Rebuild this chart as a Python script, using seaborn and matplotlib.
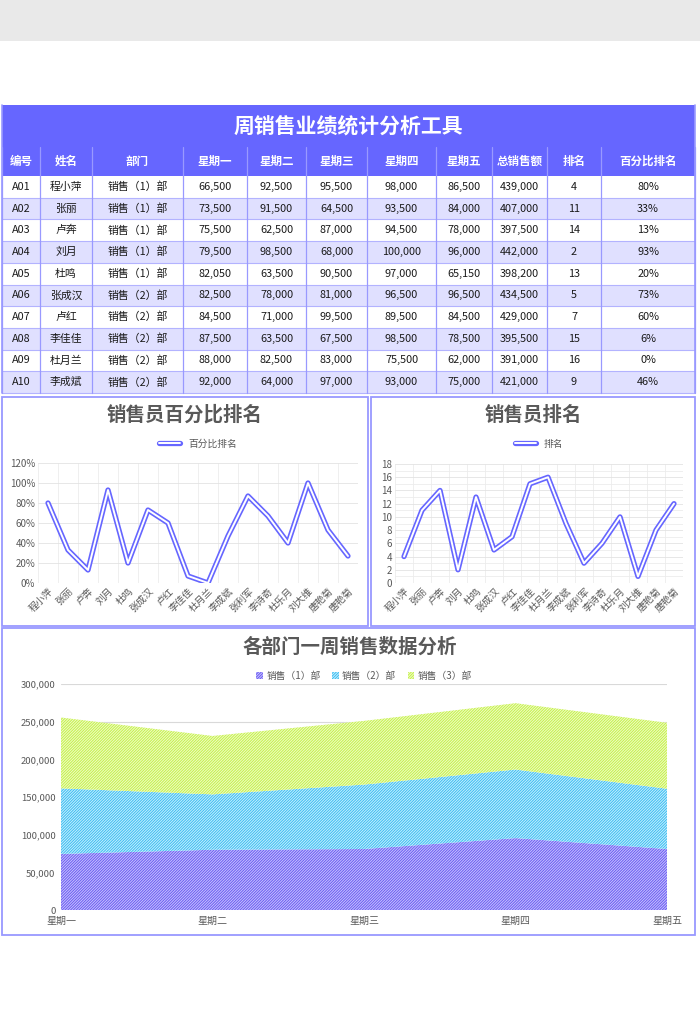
import numpy as np
import matplotlib.pyplot as plt
import seaborn as sns
import matplotlib.patheffects as pe
from matplotlib.patches import Rectangle

sns.set_theme(style="white")
plt.rcParams['font.family'] = ['Noto Sans CJK SC', 'DejaVu Sans']
plt.rcParams['hatch.linewidth'] = 0.7

# ---- table data ----
headers = ["编号", "姓名", "部门", "星期一", "星期二", "星期三", "星期四", "星期五", "总销售额", "排名", "百分比排名"]
ids = ["A01", "A02", "A03", "A04", "A05", "A06", "A07", "A08", "A09", "A10"]
names = ["程小萍", "张丽", "卢奔", "刘月", "杜鸣", "张成汉", "卢红", "李佳佳", "杜月兰", "李成斌"]
depts = ["销售（1）部"] * 5 + ["销售（2）部"] * 5
mon = [66500, 73500, 75500, 79500, 82050, 82500, 84500, 87500, 88000, 92000]
tue = [92500, 91500, 62500, 98500, 63500, 78000, 71000, 63500, 82500, 64000]
wed = [95500, 64500, 87000, 68000, 90500, 81000, 99500, 67500, 83000, 97000]
thu = [98000, 93500, 94500, 100000, 97000, 96500, 89500, 98500, 75500, 93000]
fri = [86500, 84000, 78000, 96000, 65150, 96500, 84500, 78500, 62000, 75000]
totals = [439000, 407000, 397500, 442000, 398200, 434500, 429000, 395500, 391000, 421000]
ranks_tbl = [4, 11, 14, 2, 13, 5, 7, 15, 16, 9]
pct_tbl = ["80%", "33%", "13%", "93%", "20%", "73%", "60%", "6%", "0%", "46%"]

# ---- line chart data (16 sales people) ----
people = ["程小萍", "张丽", "卢奔", "刘月", "杜鸣", "张成汉", "卢红", "李佳佳",
          "杜月兰", "李成斌", "张利军", "李诗奇", "杜乐月", "刘大维", "唐艳菊", "唐艳菊"]
pct_rank = [0.80, 0.33, 0.13, 0.93, 0.20, 0.73, 0.60, 0.07,
            0.00, 0.47, 0.87, 0.67, 0.40, 1.00, 0.53, 0.27]
rank = [4, 11, 14, 2, 13, 5, 7, 15, 16, 9, 3, 6, 10, 1, 8, 12]

# ---- area chart data ----
days = ["星期一", "星期二", "星期三", "星期四", "星期五"]
dept_names = ["销售（1）部", "销售（2）部", "销售（3）部"]
dept1 = [74500, 80000, 81000, 95500, 81000]
dept2 = [87000, 73500, 85500, 91000, 80000]
dept3 = [94000, 77500, 84500, 88000, 87500]

W, H = 700, 1030
fig = plt.figure(figsize=(W / 100, H / 100), dpi=100)
fig.patch.set_facecolor("white")


def px(x0, y0, x1, y1):
    return [x0 / W, 1 - y1 / H, (x1 - x0) / W, (y1 - y0) / H]


bg = fig.add_axes([0, 0, 1, 1])
bg.set_xlim(0, W)
bg.set_ylim(H, 0)
bg.axis("off")

PURPLE = "#6666ff"
LINE_C = "#9999ff"
GREY_T = "#595959"

bg.add_patch(Rectangle((0, 0), W, 41, color="#e9e9e9", lw=0))

# ---- table ----
col_edges = [2, 40, 92, 183, 247, 306, 367, 436, 492, 547, 601, 695]
t_top, h_top, b_top, row_h = 105, 147, 176, 21.7
bg.add_patch(Rectangle((2, t_top), 693, b_top - t_top, color=PURPLE, lw=0))
bg.text(348, 126, "周销售业绩统计分析工具", color="white", fontsize=15,
        fontweight="bold", ha="center", va="center")
for i, h in enumerate(headers):
    cx = (col_edges[i] + col_edges[i + 1]) / 2
    bg.text(cx, (h_top + b_top) / 2, h, color="white", fontsize=8.3,
            fontweight="bold", ha="center", va="center")

rows = list(zip(ids, names, depts, mon, tue, wed, thu, fri, totals, ranks_tbl, pct_tbl))
for r, row in enumerate(rows):
    y0 = b_top + r * row_h
    bg.add_patch(Rectangle((2, y0), 693, row_h,
                           color="white" if r % 2 == 0 else "#e0e0ff", lw=0))
    for i, v in enumerate(row):
        s = f"{v:,}" if isinstance(v, int) and i != 9 else str(v)
        cx = (col_edges[i] + col_edges[i + 1]) / 2
        bg.text(cx, y0 + row_h / 2, s, color="#1a1a1a", fontsize=7.8,
                ha="center", va="center")
    bg.plot([2, 695], [y0 + row_h, y0 + row_h], color="#b3b3ff", lw=0.8)
t_bot = b_top + 10 * row_h
for x in col_edges:
    bg.plot([x, x], [h_top, t_bot], color=LINE_C, lw=0.9)
bg.plot([2, 2], [t_top, t_bot], color=LINE_C, lw=1.2)
bg.plot([695, 695], [t_top, t_bot], color=LINE_C, lw=1.2)

# ---- panel frames ----
for (x0, y0, x1, y1) in [(2, 397, 368, 626), (371, 397, 695, 626), (2, 628, 695, 935)]:
    bg.add_patch(Rectangle((x0, y0), x1 - x0, y1 - y0, fill=False,
                           edgecolor=LINE_C, lw=1.3))

bg.text(185, 415, "销售员百分比排名", color=GREY_T, fontsize=14, fontweight="bold",
        ha="center", va="center")
bg.text(533, 415, "销售员排名", color=GREY_T, fontsize=14, fontweight="bold",
        ha="center", va="center")
bg.text(350, 647, "各部门一周销售数据分析", color=GREY_T, fontsize=14, fontweight="bold",
        ha="center", va="center")

line_fx = [pe.Stroke(linewidth=3.8, foreground=PURPLE), pe.Normal()]
idx = np.arange(len(people))


def line_panel(rect, values, label, ylim, step, minor, fmt, leg_y):
    ax = fig.add_axes(px(*rect))
    sns.lineplot(x=idx, y=values, ax=ax, color="white", lw=1.4,
                 path_effects=line_fx, label=label)
    ax.set_xlim(-0.5, len(people) - 0.5)
    ax.set_ylim(*ylim)
    ax.set_yticks(np.arange(ylim[0], ylim[1] + step / 2, step))
    ax.set_yticks(np.arange(ylim[0], ylim[1] + minor / 2, minor), minor=True)
    ax.set_yticklabels([fmt(v) for v in ax.get_yticks()])
    ax.set_xticks(idx)
    ax.set_xticklabels(people, rotation=45, ha="right", rotation_mode="anchor")
    ax.set_xticks(np.arange(-0.5, len(people)), minor=True)
    ax.tick_params(axis="both", labelsize=7, colors=GREY_T, length=0, pad=2)
    ax.grid(which="minor", color="#ececec", lw=0.6)
    ax.grid(which="major", axis="y", color="#e3e3e3", lw=0.6)
    for s in ax.spines.values():
        s.set_visible(False)
    ax.set_xlabel("")
    ax.set_ylabel("")
    ax.legend(loc="center", bbox_to_anchor=(0.5, leg_y), frameon=False,
              fontsize=7, handlelength=2.2, labelcolor=GREY_T)
    return ax


line_panel((38, 463, 358, 583), pct_rank, "百分比排名", (0, 1.2), 0.2, 0.2,
           lambda v: f"{v * 100:.0f}%", 1.16)
line_panel((395, 464, 683, 583), rank, "排名", (0, 18), 2, 1,
           lambda v: f"{v:.0f}", 1.17)

# ---- stacked area chart ----
ax3 = fig.add_axes(px(61, 684, 667, 910))
x = np.arange(len(days))
base = np.zeros(len(days))
styles = [("#c8c2ff", "#6a5cf0"), ("#c6f0ff", "#3dbcf0"), ("#f0fcc8", "#c4f04a")]
for vals, name, (fc, hc) in zip([dept1, dept2, dept3], dept_names, styles):
    top = base + np.array(vals)
    ax3.fill_between(x, base, top, facecolor=fc, edgecolor=hc, hatch="////////////",
                     lw=0, label=name, zorder=2)
    base = top
ax3.set_xlim(0, 4)
ax3.set_ylim(0, 300000)
ax3.set_yticks(np.arange(0, 300001, 50000))
ax3.set_yticklabels([f"{v:,}" for v in range(0, 300001, 50000)])
ax3.set_xticks(x)
ax3.set_xticklabels(days)
ax3.tick_params(axis="y", labelsize=6.8, colors=GREY_T, length=0, pad=4)
ax3.tick_params(axis="x", labelsize=7.2, colors=GREY_T, length=0, pad=4)
ax3.grid(axis="y", color="#d9d9d9", lw=0.8, zorder=0)
ax3.set_axisbelow(True)
for s in ax3.spines.values():
    s.set_visible(False)
ax3.legend(loc="center", bbox_to_anchor=(0.5, 1.037), ncol=3, frameon=False,
           fontsize=7, handlelength=0.7, handleheight=0.7, columnspacing=1.2,
           handletextpad=0.3, labelcolor=GREY_T)

fig.savefig("out.png", dpi=100)
